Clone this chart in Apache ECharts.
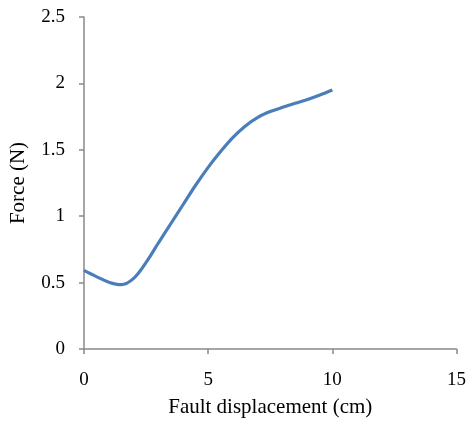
<!DOCTYPE html>
<html>
<head>
<meta charset="utf-8">
<script src="https://cdn.jsdelivr.net/npm/echarts@6/dist/echarts.min.js"></script>
<style>html,body{margin:0;padding:0;background:#fff;}#c{width:469px;height:423px;}</style>
</head>
<body>
<div id="c"></div>
<script>
var displacement = [0, 0.5, 1, 1.5, 2, 2.5, 3, 3.5, 4, 4.5, 5, 5.5, 6, 6.5, 7, 7.5, 8, 8.5, 9, 9.5, 10];
var force = [0.592, 0.545, 0.503, 0.484, 0.532, 0.652, 0.80, 0.945, 1.09, 1.235, 1.368, 1.487, 1.594, 1.68, 1.745, 1.788, 1.82, 1.85, 1.878, 1.912, 1.95];
var xTitle = 'Fault displacement (cm)';
var yTitle = 'Force (N)';

var pts = displacement.map(function (x, i) { return [x, force[i]]; });
var font = 'Liberation Serif, Times New Roman, serif';
var axisCol = '#898989';
var chart = echarts.init(document.getElementById('c'));
chart.setOption({
  animation: false,
  backgroundColor: '#fff',
  grid: { left: 83, right: 11, top: 17, bottom: 71, containLabel: false },
  xAxis: {
    type: 'value', min: 0, max: 15, interval: 5,
    name: xTitle, nameLocation: 'middle', nameGap: 48,
    nameTextStyle: { fontFamily: font, fontSize: 21, color: '#000' },
    axisLine: { show: true, lineStyle: { color: axisCol, width: 1.5 } },
    axisTick: { show: true, length: 5, lineStyle: { color: axisCol, width: 1.5 } },
    axisLabel: { margin: 22, fontFamily: font, fontSize: 19, color: '#000' },
    splitLine: { show: false }
  },
  yAxis: {
    type: 'value', min: 0, max: 2.5, interval: 0.5,
    name: yTitle, nameLocation: 'middle', nameGap: 55, nameRotate: 90,
    nameTextStyle: { fontFamily: font, fontSize: 21, color: '#000' },
    axisLine: { show: true, lineStyle: { color: axisCol, width: 1.5 } },
    axisTick: { show: true, length: 5, lineStyle: { color: axisCol, width: 1.5 } },
    axisLabel: { margin: 19, fontFamily: font, fontSize: 19, color: '#000' },
    splitLine: { show: false }
  },
  series: [{
    type: 'line', data: pts, smooth: 0.35, symbol: 'none',
    lineStyle: { color: '#4a7ebb', width: 3.2 }
  }]
});
</script>
</body>
</html>
